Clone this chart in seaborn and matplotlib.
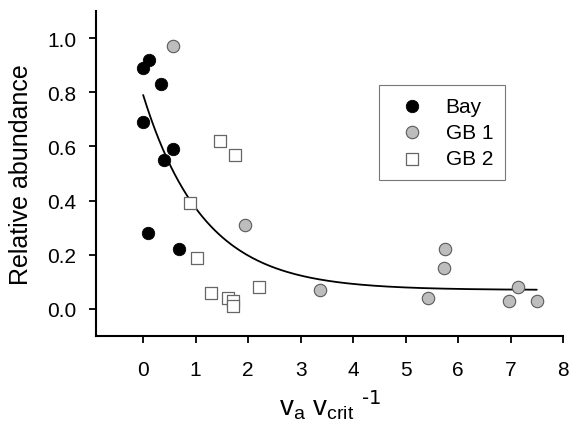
import numpy as np
import pandas as pd
import matplotlib
matplotlib.use("Agg")
import matplotlib.pyplot as plt
import seaborn as sns

# Bay (filled black circles)
bay_x = [0.00, 0.12, 0.34, 0.00, 0.57, 0.39, 0.10, 0.69]
bay_y = [0.89, 0.92, 0.83, 0.69, 0.59, 0.55, 0.28, 0.22]

# GB 1 (grey circles)
gb1_x = [0.57, 1.94, 3.37, 5.42, 5.75, 5.73, 7.14, 6.97, 7.50]
gb1_y = [0.97, 0.31, 0.07, 0.04, 0.22, 0.15, 0.08, 0.03, 0.03]

# GB 2 (open squares)
gb2_x = [1.46, 1.75, 0.90, 1.02, 1.29, 1.62, 1.71, 1.71, 2.21]
gb2_y = [0.62, 0.57, 0.39, 0.19, 0.06, 0.04, 0.03, 0.01, 0.08]

# exponential decay fit drawn through the data: y = a + b * exp(-c * x)
fit_a, fit_b, fit_c = 0.07, 0.72, 0.867
fit_x_range = (0.0, 7.5)

x_ticks = [0, 1, 2, 3, 4, 5, 6, 7, 8]
y_ticks = [0.0, 0.2, 0.4, 0.6, 0.8, 1.0]

sns.set_style("ticks")
plt.rcParams['font.family'] = ['Liberation Sans', 'DejaVu Sans']
plt.rcParams['mathtext.default'] = 'regular'
for key in ['text.color', 'axes.labelcolor', 'xtick.color', 'ytick.color']:
    plt.rcParams[key] = 'black'

fig = plt.figure(figsize=(5.71, 4.31), dpi=100)
ax = fig.add_axes([0.168, 0.218, 0.818, 0.754])

# fitted curve
fx = np.linspace(fit_x_range[0], fit_x_range[1], 200)
fit_df = pd.DataFrame({'x': fx, 'y': fit_a + fit_b * np.exp(-fit_c * fx)})
sns.lineplot(data=fit_df, x='x', y='y', color='black', linewidth=1.3, ax=ax, zorder=2)

sns.scatterplot(x=bay_x, y=bay_y, marker='o', s=80, color='black',
                edgecolor='black', linewidth=0.6, label='Bay', ax=ax, zorder=3)
sns.scatterplot(x=gb1_x, y=gb1_y, marker='o', s=80, color='#bdbdbd',
                edgecolor='#5a5a5a', linewidth=0.8, label='GB 1', ax=ax, zorder=3)
sns.scatterplot(x=gb2_x, y=gb2_y, marker='s', s=70, color='white',
                edgecolor='#666666', linewidth=0.9, label='GB 2', ax=ax, zorder=3)

ax.set_xlim(-0.9, 8.0)
ax.set_ylim(-0.1, 1.1)
ax.set_xticks(x_ticks)
ax.set_yticks(y_ticks)
ax.set_yticklabels([f'{v:.1f}' for v in y_ticks])
ax.tick_params(axis='both', labelsize=15, length=5, width=1.3, direction='out', color='black')
ax.tick_params(axis='x', pad=12)
ax.tick_params(axis='y', pad=9)

for side in ['top', 'right']:
    ax.spines[side].set_visible(False)
for side in ['left', 'bottom']:
    ax.spines[side].set_linewidth(1.5)
    ax.spines[side].set_color('black')

ax.set_xlabel(r'v$_{a}$ v$_{crit}$ $^{\text{-1}}$', fontsize=20, labelpad=6)
ax.set_ylabel('Relative abundance', fontsize=18, labelpad=10)

leg = ax.legend(loc='upper left', bbox_to_anchor=(0.606, 0.772), fontsize=15,
                frameon=True, fancybox=False, borderpad=0.55, handletextpad=0.6,
                handlelength=2.05, labelspacing=0.35, borderaxespad=0,
                markerscale=1.0)
leg.get_frame().set_edgecolor('#555555')
leg.get_frame().set_linewidth(0.8)

fig.savefig('out.png', dpi=100)
